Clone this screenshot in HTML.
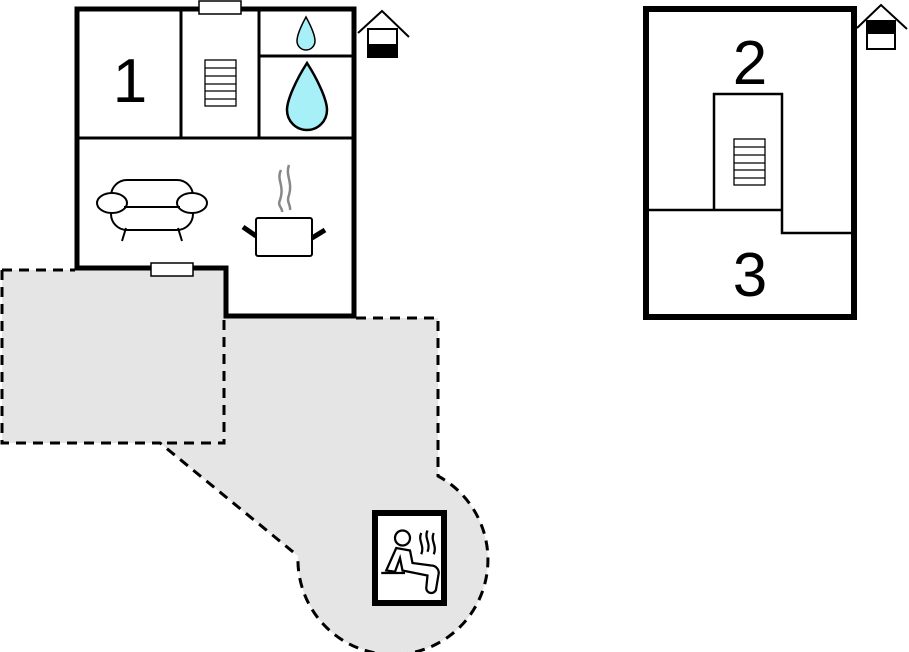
<!DOCTYPE html>
<html><head><meta charset="utf-8"><style>html,body{margin:0;padding:0;background:#fff}svg{display:block}</style></head>
<body>
<svg width="909" height="652" viewBox="0 0 909 652" xmlns="http://www.w3.org/2000/svg">
<path d="M2,270 L226,270 L226,318 L438,318 L438,476 A95,95 0 1 1 298,556 L160,443 L2,443 Z" fill="#e5e5e5"/>
<g fill="none" stroke="#000" stroke-width="3" stroke-dasharray="10,7">
<path d="M2,270 L75,270"/>
<path d="M2,270 L2,443 L160,443 L298,556"/>
<path d="M224,320 L224,443 L160,443"/>
<path d="M356,318 L438,318 L438,476 A95,95 0 1 1 298,556"/>
</g>
<rect x="226" y="270" width="128" height="46" fill="#fff"/>
<rect x="77" y="9" width="277" height="259" fill="#fff"/>
<path d="M77,9 L354,9 L354,316 L226,316 L226,268 L77,268 Z" fill="none" stroke="#000" stroke-width="5"/>
<g stroke="#000" stroke-width="3">
<line x1="181" y1="9" x2="181" y2="138"/>
<line x1="259" y1="9" x2="259" y2="138"/>
<line x1="77" y1="138" x2="354" y2="138"/>
<line x1="259" y1="56" x2="354" y2="56"/>
</g>
<rect x="199" y="1" width="42" height="13" fill="#fff" stroke="#000" stroke-width="1.5"/>
<rect x="151" y="263" width="42" height="13" fill="#fff" stroke="#000" stroke-width="1.5"/>
<text x="130" y="102" font-family="Liberation Sans, sans-serif" font-size="62" text-anchor="middle">1</text>
<g fill="#fff" stroke="#000" stroke-width="1.3">
<rect x="205" y="60" width="31" height="46"/>
<line x1="205" y1="68" x2="236" y2="68"/><line x1="205" y1="76" x2="236" y2="76"/><line x1="205" y1="84" x2="236" y2="84"/><line x1="205" y1="91" x2="236" y2="91"/><line x1="205" y1="99" x2="236" y2="99"/>
</g>
<path d="M306,17 C300,28 297,36 297,41 A9,9 0 0 0 315,41 C315,36 312,28 306,17 Z" fill="#a8f0f8" stroke="#000" stroke-width="1.5"/>
<path d="M307,63 C296,80 287,100 287,110 A20,20 0 0 0 327,110 C327,100 318,80 307,63 Z" fill="#a8f0f8" stroke="#000" stroke-width="2.5"/>
<g fill="#fff" stroke="#000" stroke-width="2">
<rect x="111" y="180" width="82" height="50" rx="16"/>
<ellipse cx="112" cy="203" rx="15" ry="10"/>
<ellipse cx="192" cy="203" rx="15" ry="10"/>
<line x1="124" y1="207" x2="180" y2="207"/>
<line x1="126" y1="228" x2="122" y2="241"/><line x1="178" y1="228" x2="182" y2="241"/>
</g>
<g stroke="#888" stroke-width="2.5" fill="none">
<path d="M281,170 C276,180 285,185 280,200 C277,206 283,208 282,212"/>
<path d="M289,165 C285,175 293,182 289,195 C286,202 291,205 290,210"/>
</g>
<rect x="256" y="218" width="56" height="38" rx="2" fill="#fff" stroke="#000" stroke-width="2"/>
<g stroke="#000" stroke-width="5"><line x1="243" y1="227" x2="256" y2="236"/><line x1="325" y1="230" x2="312" y2="238"/></g>
<g stroke="#000" stroke-width="2" fill="none"><polyline points="358,33 382,11 409,37"/></g>
<rect x="368" y="29" width="29" height="28" fill="#fff" stroke="#000" stroke-width="2"/>
<rect x="368" y="44" width="29" height="13" fill="#000"/>
<rect x="375" y="513" width="69" height="90" fill="#fff" stroke="#000" stroke-width="6"/>
<g fill="none" stroke="#000" stroke-width="1.8" transform="translate(410,558) scale(1.25) translate(-410,-558)">
<circle cx="404" cy="542" r="6"/>
<path d="M399,550 L391,568 L398,569 L402,558 L404,568 L424,572 L423,582 A4,4 0 0 0 431,582 L433,570 A6,6 0 0 0 427,564 L412,562 L410,552 Z"/>
<line x1="387" y1="570" x2="406" y2="570"/>
<path d="M419,538 C416,544 422,548 419,555"/><path d="M424,536 C421,542 427,546 424,553"/><path d="M429,538 C426,544 432,548 429,555"/>
</g>
<rect x="646" y="9" width="208" height="308" fill="#fff" stroke="#000" stroke-width="6"/>
<g stroke="#000" stroke-width="2.5" fill="none">
<path d="M714,210 L714,94 L782,94 L782,233 L854,233"/>
<line x1="646" y1="210" x2="782" y2="210"/>
</g>
<g fill="#fff" stroke="#000" stroke-width="1.3">
<rect x="734" y="139" width="31" height="46"/>
<line x1="734" y1="147" x2="765" y2="147"/><line x1="734" y1="155" x2="765" y2="155"/><line x1="734" y1="163" x2="765" y2="163"/><line x1="734" y1="170" x2="765" y2="170"/><line x1="734" y1="178" x2="765" y2="178"/>
</g>
<text x="750" y="84" font-family="Liberation Sans, sans-serif" font-size="62" text-anchor="middle">2</text>
<text x="750" y="296" font-family="Liberation Sans, sans-serif" font-size="62" text-anchor="middle">3</text>
<g stroke="#000" stroke-width="2" fill="none"><polyline points="857,28 881,5 907,29"/></g>
<rect x="867" y="21" width="28" height="28" fill="#fff" stroke="#000" stroke-width="2"/>
<rect x="867" y="21" width="28" height="13" fill="#000"/>
</svg>
</body></html>
